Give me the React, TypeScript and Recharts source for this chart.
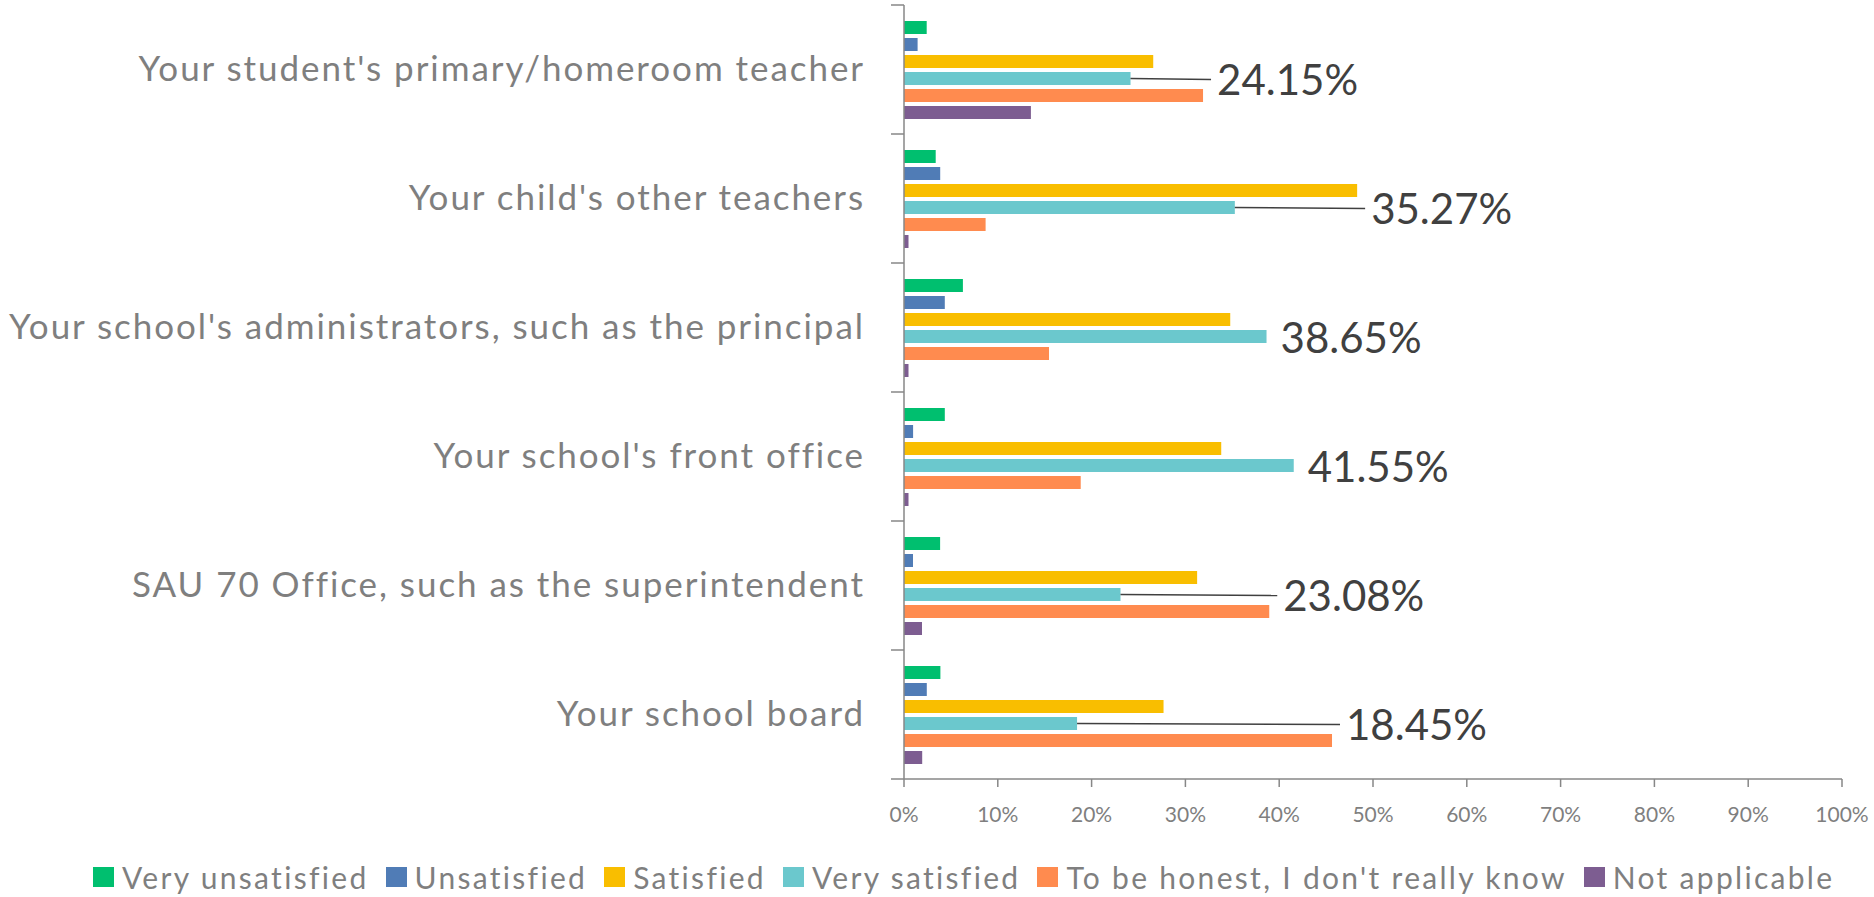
import React from "react"
import { Bar, BarChart, LabelList, Legend, XAxis, YAxis } from "recharts"

// categories (top to bottom)
const categories = [
    "Your student's primary/homeroom teacher",
    "Your child's other teachers",
    "Your school's administrators, such as the principal",
    "Your school's front office",
    "SAU 70 Office, such as the superintendent",
    "Your school board",
]

// values in percent
const veryUnsatisfied = [2.42, 3.38, 6.28, 4.35, 3.85, 3.88]
const unsatisfied = [1.45, 3.86, 4.35, 0.97, 0.96, 2.43]
const satisfied = [26.57, 48.31, 34.78, 33.82, 31.25, 27.67]
const verySatisfied = [24.15, 35.27, 38.65, 41.55, 23.08, 18.45]
const dontKnow = [31.88, 8.7, 15.46, 18.84, 38.94, 45.63]
const notApplicable = [13.53, 0.48, 0.48, 0.48, 1.92, 1.94]

const xTicks = [0, 10, 20, 30, 40, 50, 60, 70, 80, 90, 100]

const seriesList = [
    { key: "veryUnsatisfied", name: "Very unsatisfied", color: "#00BF6F", values: veryUnsatisfied },
    { key: "unsatisfied", name: "Unsatisfied", color: "#507CB6", values: unsatisfied },
    { key: "satisfied", name: "Satisfied", color: "#F9BE00", values: satisfied },
    { key: "verySatisfied", name: "Very satisfied", color: "#6BC8CD", values: verySatisfied },
    { key: "dontKnow", name: "To be honest, I don't really know", color: "#FF8B4F", values: dontKnow },
    { key: "notApplicable", name: "Not applicable", color: "#7D5D91", values: notApplicable },
]

const data = categories.map((name, i) => {
    const row: any = { name }
    seriesList.forEach((s) => { row[s.key] = s.values[i] })
    return row
})

// layout
const W = 1874
const H = 897
const MARGIN = { top: 5, right: 32, bottom: 0, left: 0 }
const Y_AXIS_W = 904
const X_AXIS_H = 66
const LEGEND_H = 52
const PLOT_H = H - MARGIN.top - MARGIN.bottom - X_AXIS_H - LEGEND_H
const BAND = PLOT_H / categories.length

const FONT = "Lato, 'Noto Sans', sans-serif"
const AXIS_COLOR = "#878787"
const TEXT_GRAY = "#7F7F7F"

if (typeof document !== "undefined") document.body.style.margin = "0"

const CategoryTick = (props: any) => {
    const { y, payload, index } = props
    const top = y - BAND / 2
    return (
        <g>
            <line x1={Y_AXIS_W - 13} x2={Y_AXIS_W} y1={top} y2={top} stroke={AXIS_COLOR} strokeWidth={1.5} />
            {index === categories.length - 1 && (
                <line x1={Y_AXIS_W - 13} x2={Y_AXIS_W} y1={y + BAND / 2} y2={y + BAND / 2} stroke={AXIS_COLOR} strokeWidth={1.5} />
            )}
            <text
                x={Y_AXIS_W - 39}
                y={y}
                dy="0.34em"
                textAnchor="end"
                fill={TEXT_GRAY}
                fontSize={35}
                letterSpacing={1.95}
                fontFamily={FONT}
            >
                {payload.value}
            </text>
        </g>
    )
}

// label sits right of the longest bar in the group, with a leader line back to the bar
const SatisfiedLabel = (props: any) => {
    const { x, y, width, height, value, index } = props
    const pxPerUnit = width / value
    const groupMax = Math.max(...seriesList.map((s) => s.values[index]))
    const barEnd = x + width
    const labelX = x + groupMax * pxPerUnit + 14
    const cy = y + height / 2 + 1
    return (
        <g>
            {labelX - barEnd > 30 && (
                <line x1={barEnd} y1={y + height / 2} x2={labelX - 6} y2={cy} stroke="#404040" strokeWidth={1.5} />
            )}
            <text x={labelX} y={cy} dy="0.36em" fill="#404040" fontSize={42} fontFamily={FONT}>
                {value.toFixed(2)}%
            </text>
        </g>
    )
}

const LegendContent = () => (
    <div style={{ height: LEGEND_H, boxSizing: "border-box", paddingTop: 22, paddingLeft: 93, display: "flex", alignItems: "flex-start" }}>
        {seriesList.map((s) => (
            <div key={s.key} style={{ display: "flex", alignItems: "center", marginRight: 17, height: 20 }}>
                <span style={{ width: 21, height: 20, background: s.color, marginRight: 8, display: "inline-block", flexShrink: 0 }} />
                <span style={{ fontFamily: FONT, fontSize: 30, letterSpacing: 2.3, color: TEXT_GRAY, lineHeight: "20px", whiteSpace: "nowrap" }}>
                    {s.name}
                </span>
            </div>
        ))}
    </div>
)

export default function App() {
    return (
        <div style={{ width: W, height: H, background: "#fff", fontFamily: FONT }}>
            <BarChart width={W} height={H} data={data} layout="vertical" margin={MARGIN} barSize={13} barGap={4}>
                <XAxis
                    type="number"
                    domain={[0, 100]}
                    ticks={xTicks}
                    tickFormatter={(v) => `${v}%`}
                    height={X_AXIS_H}
                    axisLine={{ stroke: AXIS_COLOR, strokeWidth: 1.5 }}
                    tickLine={{ stroke: AXIS_COLOR, strokeWidth: 1.5 }}
                    tickSize={8}
                    tickMargin={20}
                    tick={{ fill: TEXT_GRAY, fontSize: 21, fontFamily: FONT }}
                />
                <YAxis
                    type="category"
                    dataKey="name"
                    width={Y_AXIS_W}
                    axisLine={{ stroke: AXIS_COLOR, strokeWidth: 1.5 }}
                    tickLine={false}
                    tick={<CategoryTick />}
                    interval={0}
                />
                <Legend verticalAlign="bottom" height={LEGEND_H} wrapperStyle={{ left: 0, width: W }} content={<LegendContent />} />
                {seriesList.map((s) => (
                    <Bar key={s.key} dataKey={s.key} name={s.name} fill={s.color} isAnimationActive={false}>
                        {s.key === "verySatisfied" && (
                            <LabelList dataKey={s.key} content={<SatisfiedLabel />} isAnimationActive={false} />
                        )}
                    </Bar>
                ))}
            </BarChart>
        </div>
    )
}
